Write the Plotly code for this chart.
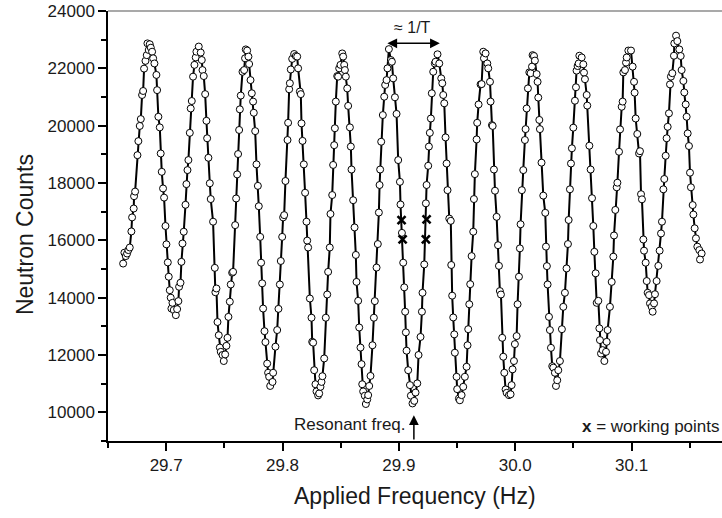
import plotly.graph_objects as go

# Ramsey fringe scan: applied frequency (Hz) vs neutron counts
scan_freq = [
    # fringe A
    29.6630, 29.6641, 29.6653, 29.6664, 29.6675, 29.6687, 29.6701, 29.6707, 29.6721, 29.6724,
    29.6733, 29.6753, 29.6761, 29.6773, 29.6782, 29.6793, 29.6802, 29.6810, 29.6822, 29.6833,
    29.6839, 29.6850, 29.6859, 29.6868, 29.6879, 29.6888, 29.6899, 29.6916, 29.6922, 29.6933,
    29.6945, 29.6953, 29.6962, 29.6973, 29.6982, 29.6994, 29.7002,
    # fringe B
    29.7014, 29.7022, 29.7031, 29.7039, 29.7045, 29.7054, 29.7065, 29.7083, 29.7094, 29.7105,
    29.7111, 29.7123, 29.7131, 29.7140, 29.7151, 29.7166, 29.7174, 29.7183, 29.7191, 29.7203,
    29.7211, 29.7220, 29.7231, 29.7243, 29.7254, 29.7260, 29.7280, 29.7297, 29.7306, 29.7312,
    29.7323, 29.7335, 29.7346, 29.7352, 29.7363, 29.7375, 29.7383, 29.7403,
    # fringe C
    29.7418, 29.7423, 29.7432, 29.7441, 29.7452, 29.7461, 29.7469, 29.7484, 29.7495, 29.7507,
    29.7518, 29.7527, 29.7535, 29.7547, 29.7555, 29.7567, 29.7575, 29.7593, 29.7601, 29.7610,
    29.7618, 29.7627, 29.7633, 29.7641, 29.7656, 29.7670, 29.7678, 29.7684, 29.7696, 29.7707,
    29.7713, 29.7725, 29.7736, 29.7747, 29.7753, 29.7765, 29.7776, 29.7788, 29.7796, 29.7808,
    # fringe D
    29.7816, 29.7825, 29.7833, 29.7845, 29.7853, 29.7868, 29.7876, 29.7885, 29.7894, 29.7914,
    29.7919, 29.7939, 29.7954, 29.7965, 29.7977, 29.7985, 29.7997, 29.8005, 29.8014, 29.8025,
    29.8043, 29.8048, 29.8057, 29.8063, 29.8071, 29.8083, 29.8100, 29.8114, 29.8126, 29.8134,
    29.8149, 29.8157, 29.8163, 29.8172, 29.8183, 29.8194, 29.8206,
    # fringe E
    29.8212, 29.8220, 29.8235, 29.8249, 29.8255, 29.8263, 29.8272, 29.8283, 29.8292, 29.8306,
    29.8315, 29.8326, 29.8335, 29.8343, 29.8358, 29.8372, 29.8384, 29.8392, 29.8406, 29.8412,
    29.8427, 29.8435, 29.8444, 29.8450, 29.8458, 29.8470, 29.8478, 29.8487, 29.8498, 29.8513,
    29.8521, 29.8530, 29.8536, 29.8544, 29.8556, 29.8564, 29.8579, 29.8587, 29.8593, 29.8607,
    29.8619,
    # fringe F
    29.8630, 29.8636, 29.8650, 29.8659, 29.8670, 29.8679, 29.8685, 29.8693, 29.8707, 29.8716,
    29.8728, 29.8736, 29.8745, 29.8756, 29.8773, 29.8785, 29.8793, 29.8808, 29.8819, 29.8828,
    29.8834, 29.8839, 29.8848, 29.8862, 29.8874, 29.8882, 29.8894, 29.8902, 29.8914, 29.8931,
    29.8940, 29.8951, 29.8966, 29.8980, 29.8994, 29.9009, 29.9014, 29.9026,
    # fringe G
    29.9037, 29.9046, 29.9054, 29.9060, 29.9066, 29.9080, 29.9095, 29.9103, 29.9117, 29.9132,
    29.9143, 29.9158, 29.9169, 29.9186, 29.9198, 29.9203, 29.9218, 29.9232, 29.9238, 29.9252,
    29.9258, 29.9266, 29.9275, 29.9283, 29.9295, 29.9309, 29.9315, 29.9332, 29.9347, 29.9364,
    29.9373, 29.9381, 29.9390, 29.9401, 29.9410, 29.9418, 29.9433, 29.9446,
    # fringe H
    29.9450, 29.9458, 29.9467, 29.9476, 29.9481, 29.9496, 29.9501, 29.9516, 29.9524, 29.9539,
    29.9553, 29.9567, 29.9582, 29.9590, 29.9596, 29.9605, 29.9613, 29.9625, 29.9639, 29.9645,
    29.9653, 29.9668, 29.9673, 29.9685, 29.9702, 29.9711, 29.9725, 29.9731, 29.9745, 29.9760,
    29.9768, 29.9783, 29.9788, 29.9800, 29.9806, 29.9817, 29.9826, 29.9840, 29.9852,
    # fringe I
    29.9860, 29.9868, 29.9877, 29.9888, 29.9897, 29.9906, 29.9917, 29.9926, 29.9946, 29.9960,
    29.9969, 29.9977, 29.9989, 29.9997, 30.0012, 30.0020, 30.0032, 30.0040, 30.0046, 30.0057,
    30.0069, 30.0083, 30.0089, 30.0098, 30.0109, 30.0121, 30.0132, 30.0144, 30.0149, 30.0161,
    30.0169, 30.0184, 30.0192, 30.0198, 30.0207, 30.0212, 30.0226, 30.0241, 30.0258, 30.0264,
    30.0272,
    # fringe J
    30.0278, 30.0290, 30.0298, 30.0307, 30.0318, 30.0327, 30.0341, 30.0350, 30.0361, 30.0370,
    30.0384, 30.0401, 30.0413, 30.0427, 30.0441, 30.0453, 30.0459, 30.0470, 30.0479, 30.0487,
    30.0499, 30.0513, 30.0522, 30.0527, 30.0536, 30.0545, 30.0551, 30.0571, 30.0585, 30.0591,
    30.0599, 30.0614, 30.0619, 30.0637, 30.0648, 30.0660, 30.0671,
    # fringe K
    30.0680, 30.0691, 30.0700, 30.0714, 30.0723, 30.0728, 30.0737, 30.0751, 30.0766, 30.0780,
    30.0786, 30.0794, 30.0814, 30.0829, 30.0843, 30.0849, 30.0860, 30.0872, 30.0878, 30.0892,
    30.0901, 30.0915, 30.0923, 30.0929, 30.0943, 30.0952, 30.0958, 30.0972, 30.0995, 30.1009,
    30.1021, 30.1026, 30.1035, 30.1049, 30.1064, 30.1072, 30.1081, 30.1089, 30.1101,
    # fringe L
    30.1107, 30.1121, 30.1130, 30.1138, 30.1150, 30.1158, 30.1173, 30.1181, 30.1193, 30.1201,
    30.1215, 30.1230, 30.1241, 30.1253, 30.1261, 30.1273, 30.1281, 30.1293, 30.1301, 30.1310,
    30.1321, 30.1330, 30.1338, 30.1350, 30.1364, 30.1367, 30.1382, 30.1393, 30.1410, 30.1422,
    30.1430, 30.1445, 30.1453, 30.1465, 30.1473, 30.1482, 30.1493, 30.1502, 30.1510, 30.1525,
    30.1531, 30.1542, 30.1553, 30.1565, 30.1582, 30.1602, 30.1588,
]

scan_counts = [
    # fringe A
    15190, 15570, 15450, 15540, 15660, 15750, 16310, 16800, 17110, 17540,
    17700, 18970, 19460, 19990, 20230, 21070, 21210, 21990, 22260, 22460,
    22870, 22640, 22840, 22720, 22580, 22350, 22170, 21770, 21240, 20310,
    19940, 19030, 18390, 17810, 17490, 16500, 15860,
    # fringe B
    15230, 14730, 14260, 14000, 13620, 13820, 13570, 13390, 13600, 13880,
    14380, 14520, 15250, 15890, 16300, 17240, 17960, 18450, 18800, 19750,
    20600, 20860, 21710, 22120, 22380, 22580, 22760, 22550, 22290, 21940,
    21730, 21100, 20170, 19560, 18880, 17990, 17440, 16650,
    # fringe C
    15040, 14190, 14320, 13150, 12690, 12260, 12110, 12000, 11790, 12020,
    12320, 12600, 13330, 13860, 14460, 14870, 14900, 16530, 17460, 18300,
    19010, 19850, 20570, 21050, 21880, 21940, 22350, 22660, 22620, 22410,
    22150, 21590, 21130, 20840, 20450, 19810, 18650, 17900, 17190, 16120,
    # fringe D
    15220, 14500, 13620, 12830, 12450, 11700, 11380, 11240, 10920, 11060,
    11380, 12290, 12870, 13610, 14460, 15280, 16120, 16800, 16880, 18070,
    19500, 20100, 21270, 21480, 21960, 22330, 22500, 22430, 22410, 22000,
    21190, 21100, 20080, 19470, 18650, 17660, 16650,
    # fringe E
    15990, 15750, 13970, 13300, 12460, 12430, 11470, 10980, 10730, 10590,
    10660, 10890, 11060, 11260, 11880, 13300, 14110, 14900, 15750, 16920,
    17580, 18630, 19320, 19910, 20840, 21730, 21710, 22000, 22120, 22520,
    22410, 22120, 21940, 21710, 21300, 20690, 19940, 19270, 18470, 17400,
    16450,
    # fringe F
    15490, 14550, 13890, 12960, 12260, 11680, 10980, 10730, 10580, 10290,
    10450, 10600, 10920, 11270, 12340, 13300, 13880, 15050, 15870, 16970,
    17930, 18470, 19440, 20370, 21010, 21420, 21590, 22000, 22670, 22290,
    22230, 21650, 20990, 20410, 18800, 18040, 17250, 16260,
    # fringe G
    15220, 14360, 13510, 12790, 12150, 11470, 10950, 10580, 10310, 10400,
    10690, 11010, 12000, 12630, 13510, 14170, 15160, 17290, 17930, 18600,
    19270, 19750, 20250, 21130, 21880, 22170, 22230, 22490, 22170, 21650,
    21480, 21070, 20780, 19590, 18680, 17750, 16760, 16680,
    # fringe H
    15140, 14070, 13310, 12720, 12080, 11240, 10810, 10480, 10420, 10600,
    10890, 11240, 11590, 12340, 12900, 13770, 14470, 15450, 16300, 17440,
    18310, 19520, 20100, 20740, 21440, 21450, 22580, 22350, 22520, 22170,
    22000, 21530, 20840, 20020, 19990, 18470, 17730, 16820, 15830,
    # fringe I
    15110, 14230, 14110, 12600, 11940, 11380, 10800, 10680, 10600, 10630,
    10950, 11500, 11790, 12380, 12660, 13770, 14730, 15720, 16560, 17750,
    18450, 19500, 19880, 20600, 21300, 21860, 21830, 22060, 22460, 22430,
    22270, 21800, 21530, 20980, 20200, 19880, 18710, 17560, 16960, 15780,
    15100,
    # fringe J
    14460, 13330, 12870, 12250, 11610, 11560, 11380, 10920, 11120, 11470,
    11790, 12900, 13680, 14170, 15020, 15870, 16710, 17780, 18680, 19210,
    19930, 20870, 21340, 21920, 22080, 22170, 22440, 22380, 22140, 21850,
    21620, 21070, 20700, 19300, 18470, 17470, 16500,
    # fringe K
    15600, 14850, 13820, 13890, 12930, 12520, 12050, 12170, 11790, 12110,
    12460, 12870, 13680, 14550, 15430, 16170, 17060, 17850, 18010, 19090,
    19870, 20660, 20840, 21860, 21940, 22200, 22380, 22620, 22620, 22060,
    21530, 21150, 20250, 19710, 19030, 19110, 17610, 17430, 16030,
    # fringe L
    15640, 15220, 14580, 14170, 14090, 13800, 13680, 13510, 13800, 14120,
    14580, 15110, 15640, 16240, 16650, 17780, 18140, 18950, 19560, 19960,
    20430, 21440, 21710, 21830, 22440, 22870, 23140, 22950, 22660, 22430,
    21940, 21560, 21160, 20740, 20310, 19730, 19290, 18360, 17850, 17230,
    16900, 16420, 16070, 15780, 15660, 15540, 15330,
]

# working points (marked with x)
wp_freq = [29.9023, 29.9032, 29.9238, 29.9232]
wp_counts = [16706, 16032, 16730, 16032]

# annotation anchors (data units)
resonant_freq = 29.9129
period_start, period_end, period_level = 29.8888, 29.9352, 22873

x_ticks = [29.7, 29.8, 29.9, 30.0, 30.1]
y_ticks = [10000, 12000, 14000, 16000, 18000, 20000, 22000, 24000]

assert len(scan_freq) == len(scan_counts)

FONT = "Liberation Sans, Arial, sans-serif"
TXT = "#1a1a1a"

fig = go.Figure()
fig.add_trace(go.Scatter(
    x=scan_freq, y=scan_counts, mode="lines+markers",
    line=dict(color="black", width=2),
    marker=dict(symbol="circle", size=7, color="white",
                line=dict(color="black", width=1)),
    showlegend=False, hoverinfo="skip"))
fig.add_trace(go.Scatter(
    x=wp_freq, y=wp_counts, mode="markers",
    marker=dict(symbol="x-thin", size=8, color="black",
                line=dict(color="black", width=2.6)),
    showlegend=False, hoverinfo="skip"))

axis_common = dict(
    showline=True, linecolor="black", linewidth=1.5,
    ticks="outside", ticklen=8, tickwidth=1.5, tickcolor="black",
    showgrid=False, zeroline=False,
    tickfont=dict(family=FONT, size=17, color=TXT),
)
fig.update_xaxes(
    range=[29.65, 30.1777], tickmode="array", tickvals=x_ticks,
    ticktext=[f"{v:.1f}" for v in x_ticks],
    minor=dict(ticks="outside", ticklen=5, tickwidth=1.5, tickcolor="black",
               dtick=0.05, tick0=29.65, showgrid=False),
    **axis_common)
fig.update_yaxes(
    range=[9000, 24000], tickmode="array", tickvals=y_ticks,
    ticktext=[str(v) for v in y_ticks],
    minor=dict(ticks="outside", ticklen=5, tickwidth=1.5, tickcolor="black",
               dtick=1000, tick0=9000, showgrid=False),
    **axis_common)

annotations = [
    dict(text="Applied Frequency (Hz)", xref="paper", yref="paper",
         x=0.5, y=-0.128, xanchor="center", yanchor="middle", showarrow=False,
         font=dict(family=FONT, size=23, color=TXT)),
    dict(text="Neutron Counts", xref="paper", yref="paper",
         x=-0.136, y=0.48, xanchor="center", yanchor="middle", showarrow=False,
         textangle=-90, font=dict(family=FONT, size=23, color=TXT)),
    dict(text="≈ 1/T", x=(period_start + period_end) / 2, y=23424,
         xref="x", yref="y", showarrow=False,
         font=dict(family=FONT, size=16, color=TXT)),
    dict(text="", x=period_end, y=period_level, ax=period_start, ay=period_level,
         xref="x", yref="y", axref="x", ayref="y", showarrow=True,
         arrowhead=2, arrowside="end+start", arrowsize=1.3, arrowwidth=1.5,
         arrowcolor="black"),
    dict(text="", x=resonant_freq, y=9900, ax=resonant_freq, ay=9000,
         xref="x", yref="y", axref="x", ayref="y", showarrow=True,
         arrowhead=2, arrowsize=1.3, arrowwidth=1.5, arrowcolor="black"),
    dict(text="Resonant freq.", x=29.9075, y=9586, xref="x", yref="y",
         xanchor="right", yanchor="middle", showarrow=False,
         font=dict(family=FONT, size=17, color=TXT)),
    dict(text="<b>x</b> = working points", x=30.0556, y=9517, xref="x", yref="y",
         xanchor="left", yanchor="middle", showarrow=False,
         font=dict(family=FONT, size=17, color=TXT)),
]

fig.update_layout(
    width=722, height=518,
    margin=dict(l=108, r=0, t=11, b=77),
    plot_bgcolor="white", paper_bgcolor="white",
    annotations=annotations,
    shapes=[dict(type="line", xref="paper", yref="paper", x0=0, x1=1, y0=1, y1=1,
                 line=dict(color="#8c8c8c", width=1.5))],
)

fig.write_html("out.html")
